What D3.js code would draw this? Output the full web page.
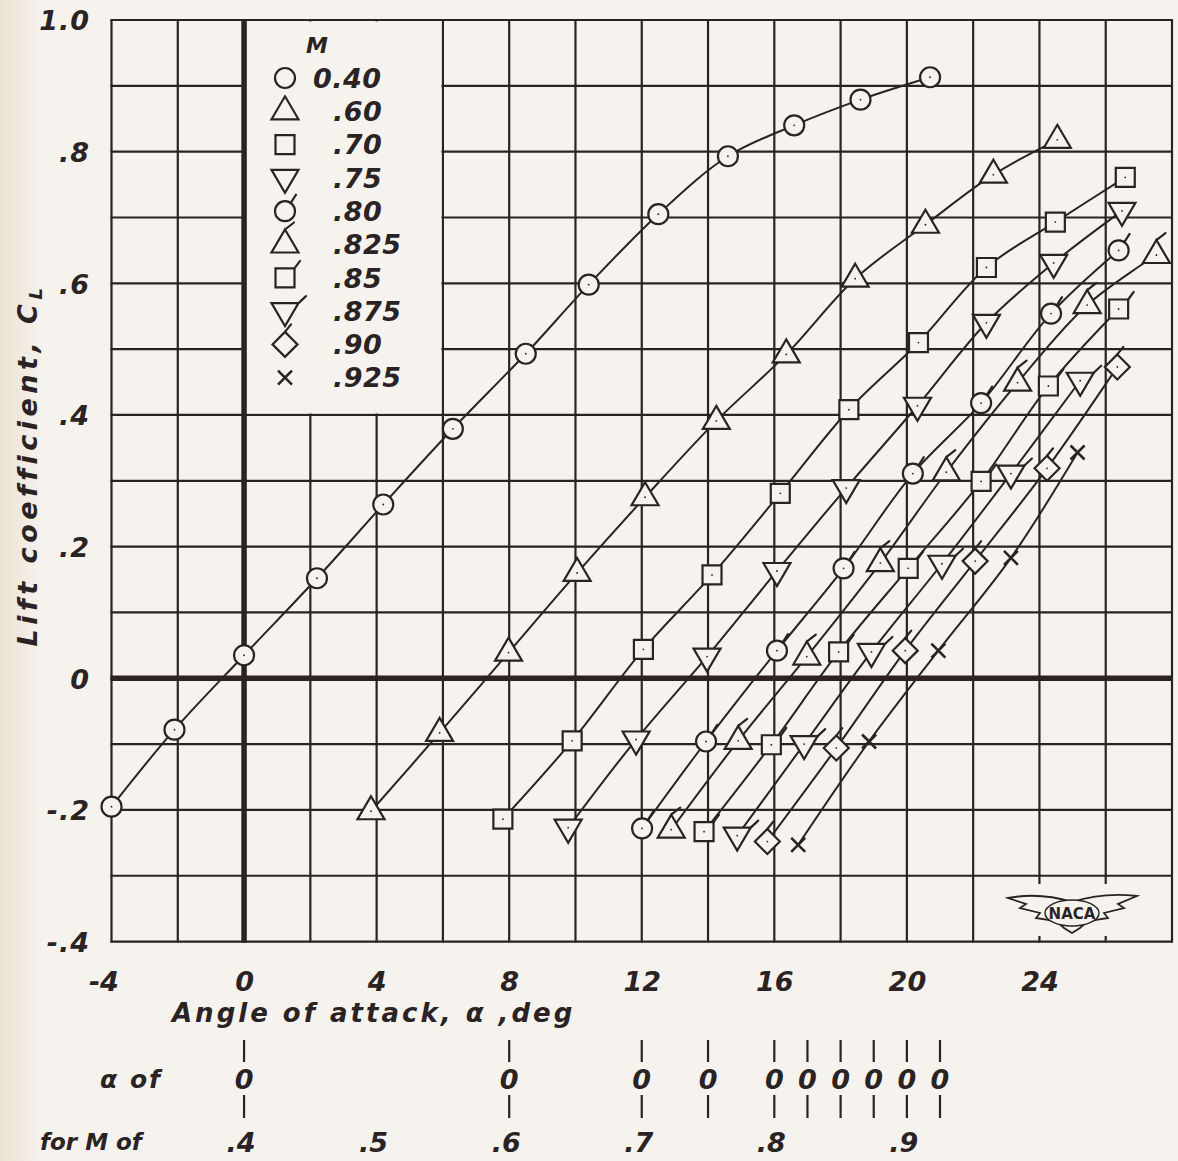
<!DOCTYPE html>
<html lang="en">
<head>
<meta charset="utf-8">
<title>Lift coefficient vs angle of attack</title>
<script src="https://d3js.org/d3.v7.min.js"></script>
<style>
  body{margin:0;background:#f6f3ef;}
  svg{display:block;}
  text{font-family:"DejaVu Sans",sans-serif;font-style:oblique;font-weight:bold;fill:#2b2323;}
</style>
</head>
<body>
<div id="chart"></div>
<script>
// Mach numbers, the shift of each curve (where its alpha = 0 sits), symbols
var machLabels = ["0.40", ".60", ".70", ".75", ".80", ".825", ".85", ".875", ".90", ".925"]
var machShift  = [0, 8, 12, 14, 16, 17, 18, 19, 20, 21]
var symbols    = ["circle","triangle","square","tridown","circle","triangle","square","tridown","diamond","cross"]
var flagged    = [false, false, false, false, true, true, true, true, true, false]

// measured angle of attack (deg) and lift coefficient for each Mach number
var alpha040 = [-4.0, -2.1, 0.0, 2.2, 4.2, 6.3, 8.5, 10.4, 12.5, 14.6, 16.6, 18.6, 20.7]
var cl040    = [-0.195, -0.078, 0.035, 0.152, 0.264, 0.379, 0.493, 0.598, 0.705, 0.793, 0.840, 0.879, 0.913]
var alpha060 = [-4.17, -2.1, -0.02, 2.05, 4.1, 6.25, 8.36, 10.44, 12.56, 14.61, 16.54]
var cl060    = [-0.202, -0.083, 0.039, 0.160, 0.275, 0.391, 0.492, 0.607, 0.689, 0.765, 0.818]
var alpha070 = [-4.19, -2.1, 0.05, 2.12, 4.18, 6.25, 8.35, 10.4, 12.48, 14.59]
var cl070    = [-0.214, -0.095, 0.044, 0.157, 0.281, 0.408, 0.510, 0.624, 0.693, 0.761]
var alpha075 = [-4.22, -2.17, -0.03, 2.08, 4.17, 6.32, 8.4, 10.43, 12.49]
var cl075    = [-0.227, -0.093, 0.033, 0.163, 0.289, 0.414, 0.540, 0.631, 0.710]
var alpha080 = [-3.99, -2.06, 0.08, 2.09, 4.18, 6.24, 8.35, 10.39]
var cl080    = [-0.228, -0.096, 0.042, 0.167, 0.311, 0.418, 0.554, 0.650]
var alpha0825 = [-4.11, -2.09, -0.02, 2.2, 4.19, 6.34, 8.44, 10.53]
var cl0825    = [-0.230, -0.095, 0.033, 0.175, 0.313, 0.449, 0.567, 0.643]
var alpha085 = [-4.12, -2.09, -0.06, 2.04, 4.24, 6.27, 8.39]
var cl085    = [-0.233, -0.101, 0.040, 0.167, 0.299, 0.444, 0.561]
var alpha0875 = [-4.12, -2.1, -0.07, 2.06, 4.14, 6.23]
var cl0875    = [-0.239, -0.100, 0.040, 0.174, 0.311, 0.452]
var alpha090 = [-4.21, -2.13, -0.05, 2.06, 4.23, 6.35]
var cl090    = [-0.248, -0.106, 0.042, 0.178, 0.319, 0.473]
var alpha0925 = [-4.28, -2.14, -0.05, 2.14, 4.15]
var cl0925    = [-0.253, -0.096, 0.042, 0.183, 0.343]

// tick labels
var xTicks = [-4, 0, 4, 8, 12, 16, 20, 24]
var xTickLabels = ["-4", "0", "4", "8", "12", "16", "20", "24"]
var yTicks = [-0.4, -0.2, 0, 0.2, 0.4, 0.6, 0.8, 1.0]
var yTickLabels = ["-.4", "-.2", "0", ".2", ".4", ".6", ".8", "1.0"]
var mTicks = [0.4, 0.5, 0.6, 0.7, 0.8, 0.9]
var mTickLabels = [".4", ".5", ".6", ".7", ".8", ".9"]

var alphas = [alpha040, alpha060, alpha070, alpha075, alpha080, alpha0825, alpha085, alpha0875, alpha090, alpha0925]
var cls = [cl040, cl060, cl070, cl075, cl080, cl0825, cl085, cl0875, cl090, cl0925]

var W = 1178, H = 1161
var ink = "#2b2323", paper = "#f6f3ef"

var svg = d3.select("#chart").append("svg").attr("width", W).attr("height", H)

var x = d3.scaleLinear().domain([-4, 28]).range([111.5, 1172])
var y = d3.scaleLinear().domain([-0.4, 1.0]).range([941.6, 20])
var mScale = d3.scaleLinear().domain([0.4, 0.9]).range([x(0), x(20)])

// paper
var defs = svg.append("defs")
var grad = defs.append("linearGradient").attr("id", "edge")
grad.append("stop").attr("offset", "0%").attr("stop-color", "#ede2d3")
grad.append("stop").attr("offset", "100%").attr("stop-color", paper)
svg.append("rect").attr("width", W).attr("height", H).attr("fill", paper)
svg.append("rect").attr("width", 45).attr("height", H).attr("fill", "url(#edge)")

// thin grid
var gxVals = d3.range(-4, 28.01, 2)
var gyVals = d3.range(-4, 10.01, 1).map(function(v){ return v / 10 })
var grid = svg.append("g")
grid.selectAll("line.v").data(gxVals).enter().append("line")
    .attr("x1", function(d){ return x(d) }).attr("x2", function(d){ return x(d) })
    .attr("y1", y(1.0) - 1).attr("y2", y(-0.4) + 1)
    .attr("stroke", ink).attr("stroke-width", 2.2)
grid.selectAll("line.h").data(gyVals).enter().append("line")
    .attr("x1", x(-4) - 1).attr("x2", x(28) + 1)
    .attr("y1", function(d){ return y(d) }).attr("y2", function(d){ return y(d) })
    .attr("stroke", ink).attr("stroke-width", 2.2)

// blank box behind the legend
svg.append("rect")
    .attr("x", x(0) + 2).attr("y", y(1.0) + 1.5)
    .attr("width", x(6) - x(0) - 3.5).attr("height", y(0.4) - y(1.0) - 3)
    .attr("fill", paper)

// blank box behind the NACA mark
svg.append("rect").attr("x", 1002).attr("y", 884).attr("width", 142).attr("height", 52).attr("fill", paper)

// heavy zero lines
svg.append("line").attr("x1", x(0)).attr("x2", x(0)).attr("y1", y(1.0) - 1).attr("y2", y(-0.4) + 1)
    .attr("stroke", ink).attr("stroke-width", 5.5)
svg.append("line").attr("x1", x(-4) - 1).attr("x2", x(28) + 1).attr("y1", y(0)).attr("y2", y(0))
    .attr("stroke", ink).attr("stroke-width", 5.5)

// y tick labels
var yAxis = svg.append("g").attr("transform", "translate(90,0)")
    .call(d3.axisLeft(y).tickValues(yTicks).tickSize(0).tickPadding(0)
        .tickFormat(function(d, i){ return yTickLabels[i] }))
yAxis.select(".domain").remove()
yAxis.attr("font-family", null).attr("font-size", null)
yAxis.selectAll("text").attr("font-size", 27).attr("fill", ink).attr("dy", "0.36em")
    .attr("letter-spacing", 1)

// x tick labels
var xAxis = svg.append("g").attr("transform", "translate(0,972)")
    .call(d3.axisBottom(x).tickValues(xTicks).tickSize(0).tickPadding(0)
        .tickFormat(function(d, i){ return xTickLabels[i] }))
xAxis.select(".domain").remove()
xAxis.attr("font-family", null).attr("font-size", null)
xAxis.selectAll("text").attr("font-size", 27).attr("fill", ink)
    .attr("dx", function(d){ return d < 0 ? "-0.3em" : 0 })

// axis titles
svg.append("text").attr("x", 172).attr("y", 1013).attr("dy", "0.36em")
    .attr("font-size", 26).attr("letter-spacing", 3)
    .text("Angle of attack, α ,deg")

var yt = svg.append("text").attr("transform", "translate(27,465) rotate(-90)")
    .attr("text-anchor", "middle").attr("dy", "0.36em")
    .attr("font-size", 27).attr("letter-spacing", 4.5)
yt.append("tspan").text("Lift coefficient, C")
yt.append("tspan").attr("font-size", 18).attr("dy", 5).text("L")

// curves
var series = machLabels.map(function(m, i){
    return {
        mach: m, shift: machShift[i], sym: symbols[i], flag: flagged[i],
        pts: alphas[i].map(function(a, j){ return {a: a, cl: cls[i][j]} })
    }
})

svg.append("g").selectAll("path").data(series).enter().append("path")
    .attr("d", function(s){
        return d3.line()
            .x(function(d){ return x(d.a + s.shift) })
            .y(function(d){ return y(d.cl) })
            .curve(d3.curveCatmullRom.alpha(0.5))(s.pts)
    })
    .attr("fill", "none").attr("stroke", ink).attr("stroke-width", 2)

// marker shapes
function shapePath(t){
    if(t === "circle") return "M10,0A10,10 0 1,1 -10,0A10,10 0 1,1 10,0Z"
    if(t === "triangle") return "M0,-15L13.5,8L-13.5,8Z"
    if(t === "tridown") return "M-13.5,-8L13.5,-8L0,15Z"
    if(t === "square") return "M-9.5,-9.5L9.5,-9.5L9.5,9.5L-9.5,9.5Z"
    if(t === "diamond") return "M0,-12.5L12.5,0L0,12.5L-12.5,0Z"
    return "M-7,-7L7,7M-7,7L7,-7"
}
function flagPath(t){
    if(t === "circle") return "M5.7,-8.2L11,-16.5"
    if(t === "triangle") return "M0,-15L9,-22"
    if(t === "tridown") return "M13.5,-8L21,-15"
    if(t === "square") return "M9.5,-9.5L15,-17"
    if(t === "diamond") return "M0,-12.5L6,-20"
    return ""
}
function drawMarker(g, t, flag, showDot){
    g.append("path").attr("d", shapePath(t))
        .attr("fill", t === "cross" ? "none" : paper)
        .attr("stroke", ink).attr("stroke-width", t === "cross" ? 2.6 : 2.2)
    if(flag){
        g.append("path").attr("d", flagPath(t)).attr("fill", "none")
            .attr("stroke", ink).attr("stroke-width", 2.2).attr("stroke-linecap", "round")
    }
    if(showDot && t !== "cross"){
        g.append("circle").attr("r", 0.9).attr("fill", ink)
    }
}

series.forEach(function(s){
    s.pts.forEach(function(d){
        var g = svg.append("g").attr("transform", "translate(" + x(d.a + s.shift) + "," + y(d.cl) + ")")
        drawMarker(g, s.sym, s.flag, true)
    })
})

// legend
var leg = svg.append("g")
leg.append("text").attr("x", 317).attr("y", 45).attr("dy", "0.36em").attr("text-anchor", "middle")
    .attr("font-size", 22).text("M")
machLabels.forEach(function(m, i){
    var ly = 78 + i * 33.3
    var g = leg.append("g").attr("transform", "translate(285," + ly + ")")
    drawMarker(g, symbols[i], flagged[i], false)
    leg.append("text").attr("x", i === 0 ? 313 : 333).attr("y", ly).attr("dy", "0.36em")
        .attr("font-size", 27).attr("letter-spacing", 0.5).text(m)
})

// alpha-zero marks for each Mach number
var marks = svg.append("g")
marks.selectAll("line.up").data(machShift).enter().append("line")
    .attr("x1", function(d){ return x(d) }).attr("x2", function(d){ return x(d) })
    .attr("y1", 1040).attr("y2", 1062).attr("stroke", ink).attr("stroke-width", 2.2)
marks.selectAll("line.dn").data(machShift).enter().append("line")
    .attr("x1", function(d){ return x(d) }).attr("x2", function(d){ return x(d) })
    .attr("y1", 1095).attr("y2", 1118).attr("stroke", ink).attr("stroke-width", 2.2)
marks.selectAll("text").data(machShift).enter().append("text")
    .attr("x", function(d){ return x(d) }).attr("y", 1079).attr("dy", "0.36em")
    .attr("text-anchor", "middle").attr("font-size", 27).attr("font-weight", "normal").text("0")

svg.append("text").attr("x", 100).attr("y", 1079).attr("dy", "0.36em")
    .attr("font-size", 25).attr("letter-spacing", 2).text("α  of")
svg.append("text").attr("x", 40).attr("y", 1142).attr("dy", "0.36em")
    .attr("font-size", 23).text("for M of")
svg.append("g").selectAll("text").data(mTicks).enter().append("text")
    .attr("x", function(d){ return mScale(d) - 3 }).attr("y", 1142).attr("dy", "0.36em")
    .attr("text-anchor", "middle").attr("font-size", 27)
    .text(function(d, i){ return mTickLabels[i] })

// NACA mark
var naca = svg.append("g")
naca.append("path")
    .attr("d", "M1008,898 Q1040,892 1072,902 Q1104,892 1137,896 L1118,904 L1124,908 L1104,913 L1108,918 L1088,921 L1080,928 L1072,933 L1064,928 L1056,921 L1036,918 L1040,913 L1020,908 L1026,904 Z")
    .attr("fill", paper).attr("stroke", ink).attr("stroke-width", 1.8)
naca.append("ellipse").attr("cx", 1072).attr("cy", 913).attr("rx", 27).attr("ry", 13)
    .attr("fill", paper).attr("stroke", ink).attr("stroke-width", 1.5)
naca.append("text").attr("x", 1072).attr("y", 914).attr("dy", "0.36em").attr("text-anchor", "middle")
    .attr("font-size", 15).style("font-style", "normal").text("NACA")
</script>
</body>
</html>
